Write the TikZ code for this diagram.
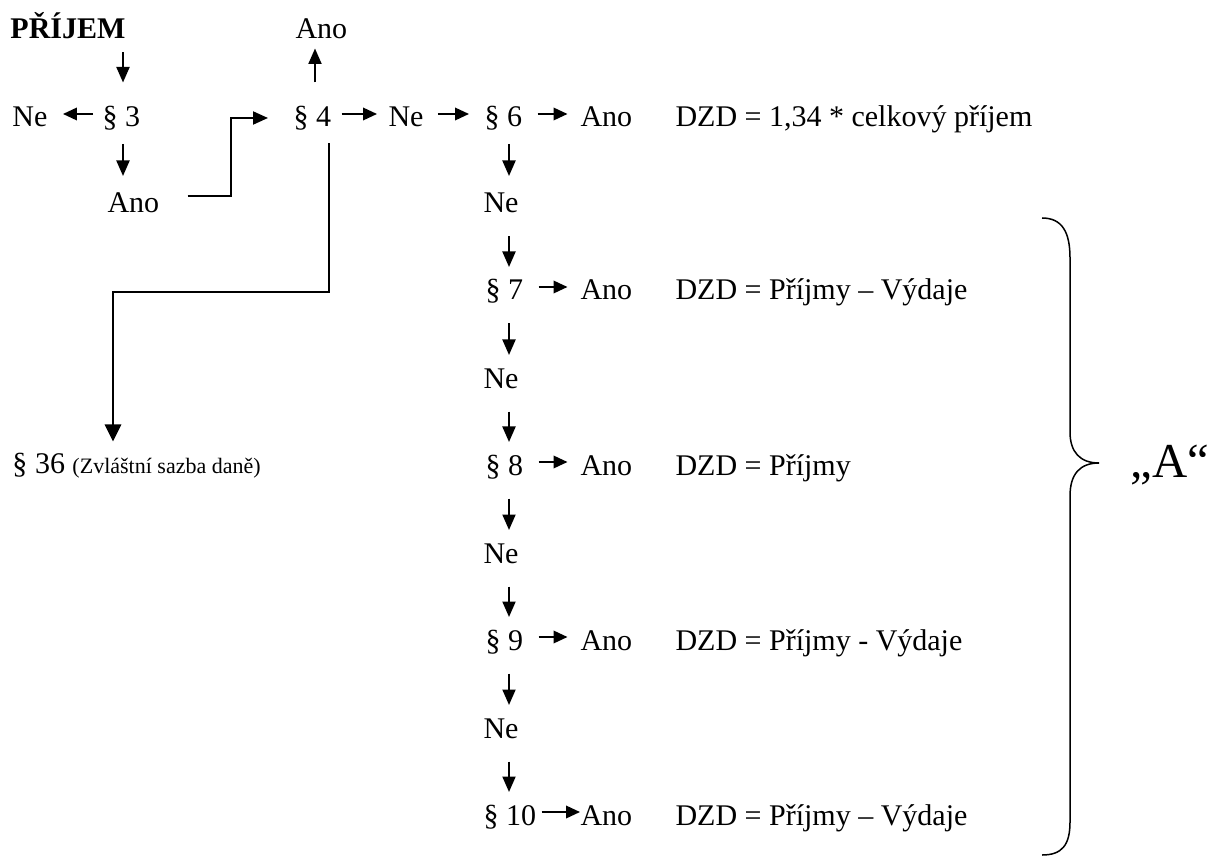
\documentclass[tikz,border=0pt]{standalone}
\usepackage{fontspec}
\setmainfont{Liberation Serif}
\usetikzlibrary{arrows.meta}

\begin{document}
\begin{tikzpicture}[x=0.4pt,y=-0.4pt,font=\fontsize{12}{14}\selectfont,
    txt/.style={anchor=base west,inner sep=0pt,text height=11pt,text depth=0.6pt},
    ln/.style={line width=0.8pt},
    harr/.style={ln,-{Triangle[length=5.6pt,width=5pt]},shorten <=6pt,shorten >=5pt},
    varr/.style={ln,-{Triangle[length=6.2pt,width=5.2pt]},shorten <=8.6pt,shorten >=2pt}]
  \useasboundingbox (0,0) rectangle (1211,858);

  % top rows
  \node[txt] (prijem) at (10,39) {\bfseries PŘÍJEM};
  \node[txt] (ano4) at (295,39) {Ano};
  \node[txt] (ne3) at (12,127) {Ne};
  \node[txt] (p3) at (102,127) {§ 3};
  \node[txt] (p4) at (293,127) {§ 4};
  \node[txt] (ne4) at (388,127) {Ne};
  \node[txt] (p6) at (484,127) {§ 6};
  \node[txt] (ano6) at (580,127) {Ano};
  \node[txt] (dzd6) at (675,127) {DZD = 1,34 * celkový příjem};
  \node[txt] (ano3) at (107,213) {Ano};
  \node[txt] (ne6) at (483,213) {Ne};
  \node[txt] (p36) at (12,473) {§ 36 {\fontsize{8.8}{10}\selectfont (Zvláštní sazba daně)}};

  % column under par. 6
  \node[txt] (p7) at (485,300) {§ 7};
  \node[txt] (ano7) at (580,300) {Ano};
  \node[txt] (dzd7) at (675,300) {DZD = Příjmy – Výdaje};
  \node[txt] (ne7) at (483,388) {Ne};
  \node[txt] (p8) at (485,475) {§ 8};
  \node[txt] (ano8) at (580,475) {Ano};
  \node[txt] (dzd8) at (675,475) {DZD = Příjmy};
  \node[txt] (ne8) at (483,563) {Ne};
  \node[txt] (p9) at (485,650) {§ 9};
  \node[txt] (ano9) at (580,650) {Ano};
  \node[txt] (dzd9) at (675,650) {DZD = Příjmy - Výdaje};
  \node[txt] (ne9) at (483,738) {Ne};
  \node[txt] (p10) at (483,825) {§ 10};
  \node[txt] (ano10) at (580,825) {Ano};
  \node[txt] (dzd10) at (675,825) {DZD = Příjmy – Výdaje};
  \node[anchor=base west,inner sep=0pt,font=\fontsize{19.5}{22}\selectfont] (groupa) at (1130,477) {„A“};

  \coordinate (c3) at (123,0);
  \coordinate (c4) at (315,0);
  \coordinate (c6) at (509,0);
  \coordinate (bend) at (113,292);

  % vertical arrows
  \draw[varr,shorten <=4.6pt,shorten >=6.6pt] (prijem.south -| c3) -- (p3.north -| c3);
  \draw[varr,shorten <=6pt,shorten >=3.6pt] (p3.south -| c3) -- (ano3.north -| c3);
  \draw[varr,shorten <=6.6pt,shorten >=3pt] (p4.north -| c4) -- (ano4.south -| c4);
  \draw[varr,shorten <=6pt,shorten >=3.6pt] (p6.south -| c6) -- (ne6.north -| c6);
  \draw[varr] (ne6.south -| c6) -- (p7.north -| c6);
  \draw[varr] (p7.south -| c6) -- (ne7.north -| c6);
  \draw[varr] (ne7.south -| c6) -- (p8.north -| c6);
  \draw[varr] (p8.south -| c6) -- (ne8.north -| c6);
  \draw[varr] (ne8.south -| c6) -- (p9.north -| c6);
  \draw[varr] (p9.south -| c6) -- (ne9.north -| c6);
  \draw[varr] (ne9.south -| c6) -- (p10.north -| c6);

  % horizontal arrows
  \draw[harr,shorten <=3.6pt,shorten >=6pt] (p3) -- (ne3);
  \draw[harr,shorten <=4pt,shorten >=4.4pt] (p4) -- (ne4);
  \draw[harr,shorten <=5.6pt,shorten >=6pt] (ne4) -- (p6);
  \draw[harr] (p6) -- (ano6);
  \draw[harr] (p7) -- (ano7);
  \draw[harr] (p8) -- (ano8);
  \draw[harr] (p9) -- (ano9);
  \draw[harr,shorten <=2pt,shorten >=0pt] (p10) -- (ano10);

  % elbow lines
  \draw[ln,-{Triangle[length=6pt,width=5.2pt]}] ([xshift=11.2pt,yshift=1.4pt]ano3.east) -- ++(43,0) |- ([xshift=-10pt,yshift=-1.6pt]p4.west);
  \draw[ln,-{Triangle[length=6.8pt,width=6.5pt]},shorten >=1.4pt] ([xshift=-1pt,yshift=-5.8pt]p4.south east) |- (bend) -- (bend |- p36.north);

  % brace
  \draw[line width=0.6pt] (1042,218) .. controls (1062,218) and (1070,232) .. (1070,258) -- (1070,432)
    .. controls (1070,452) and (1080,463) .. (1099,463) .. controls (1080,463) and (1070,474) .. (1070,496)
    -- (1070,822) .. controls (1070,845) and (1062,855) .. (1042,855);
\end{tikzpicture}
\end{document}
